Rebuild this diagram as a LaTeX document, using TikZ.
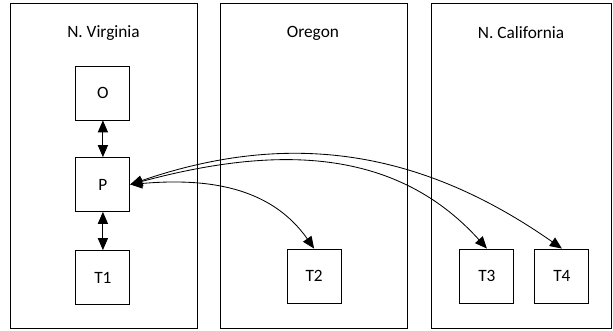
\documentclass[tikz,border=0pt]{standalone}
\usepackage{fontspec}
\setmainfont{Carlito}
\usetikzlibrary{arrows.meta}

\begin{document}
\begin{tikzpicture}[every node/.style={font=\fontsize{16.4}{19}\selectfont}, every path/.style={line width=0.8pt},
    region/.style={draw, line width=0.8pt},
    box/.style={draw, minimum size=1.8cm, inner sep=0pt},
    link/.style={{Triangle[length=0.4cm, width=0.34cm]}-{Triangle[length=0.4cm, width=0.34cm]}}]

    \useasboundingbox (0,0) rectangle (20.433,11);

    \draw[region] (0.333,0.067) rectangle (6.567,10.9);
    \draw[region] (7.333,0.067) rectangle (13.567,10.9);
    \draw[region] (14.367,0.067) rectangle (20.367,10.9);

    \node (va) at (3.45,9.9) {N. Virginia};
    \node (or) at (10.43,9.9) {Oregon};
    \node (ca) at (17.37,9.9) {N. California};

    \node[box] (O) at (3.43,7.9) {O};
    \node[box] (P) at (3.43,4.85) {P};
    \node[box] (T1) at (3.43,1.75) {T1};

    \node[box] (T2) at (10.47,1.8) {T2};

    \node[box] (T3) at (16.23,1.8) {T3};
    \node[box] (T4) at (18.73,1.8) {T4};

    \draw[link] (O) to (P);
    \draw[link] (P) to (T1);

    \draw[link] (P.east) to[out=5, in=125] (T2.north);
    \draw[link] (P.east) to[out=15, in=132] (T3.north);
    \draw[link] (P.east) to[out=19, in=145] (T4.north);

\end{tikzpicture}
\end{document}
